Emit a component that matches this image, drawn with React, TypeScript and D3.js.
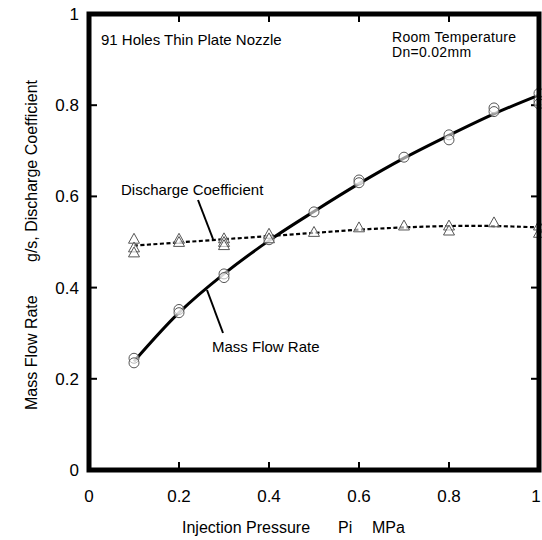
import React from "react";
import * as d3 from "d3";

const massX = [0.1, 0.1, 0.2, 0.2, 0.3, 0.3, 0.4, 0.5, 0.6, 0.6, 0.7, 0.8, 0.8, 0.9, 0.9, 1.0, 1.0, 1.0];
const massY = [0.245, 0.235, 0.352, 0.345, 0.43, 0.422, 0.505, 0.566, 0.636, 0.63, 0.686, 0.735, 0.724, 0.794, 0.786, 0.826, 0.81, 0.803];
const cdX = [0.1, 0.1, 0.1, 0.2, 0.2, 0.3, 0.3, 0.3, 0.4, 0.4, 0.5, 0.6, 0.7, 0.8, 0.8, 0.9, 1.0, 1.0];
const cdY = [0.507, 0.488, 0.477, 0.507, 0.5, 0.508, 0.5, 0.493, 0.518, 0.508, 0.522, 0.532, 0.536, 0.536, 0.525, 0.543, 0.536, 0.52];
const fitX = [0.1, 0.2, 0.3, 0.4, 0.5, 0.6, 0.7, 0.8, 0.9, 1.0];
const massFit = [0.238, 0.345, 0.43, 0.503, 0.567, 0.628, 0.684, 0.734, 0.781, 0.822];
const cdFit = [0.492, 0.499, 0.506, 0.513, 0.52, 0.527, 0.532, 0.535, 0.535, 0.532];
const xTicks = [0, 0.2, 0.4, 0.6, 0.8, 1];
const yTicks = [0, 0.2, 0.4, 0.6, 0.8, 1];

const W = 542, H = 540;
const L = 89, R = 539, T = 14, B = 470;

export default function App() {
  const x = d3.scaleLinear().domain([0, 1]).range([L, R]);
  const y = d3.scaleLinear().domain([0, 1]).range([B, T]);
  const line = d3.line<number>().x((_, i) => x(fitX[i])).y((d) => y(d)).curve(d3.curveCatmullRom);
  const font = "'Liberation Sans', Arial, sans-serif";
  const tri = (cx: number, cy: number) => {
    const s = 5.5;
    return `M${cx},${cy - s}L${cx + s},${cy + s * 0.8}L${cx - s},${cy + s * 0.8}Z`;
  };
  const fmt = (t: number) => (t === 0 || t === 1 ? String(t) : t.toFixed(1));
  return (
    <svg width={W} height={H} style={{ position: "absolute", left: 0, top: 0, background: "#fff" }} fontFamily={font}>
      <rect x={0} y={0} width={W} height={H} fill="#fff" />
      {xTicks.slice(1, -1).map((t) => (
        <g key={"xt" + t}>
          <line x1={x(t)} x2={x(t)} y1={B} y2={B - 8} stroke="#000" strokeWidth={2} />
          <line x1={x(t)} x2={x(t)} y1={T} y2={T + 8} stroke="#000" strokeWidth={2} />
        </g>
      ))}
      {yTicks.slice(1, -1).map((t) => (
        <g key={"yt" + t}>
          <line x1={L} x2={L + 8} y1={y(t)} y2={y(t)} stroke="#000" strokeWidth={2} />
          <line x1={R} x2={R - 8} y1={y(t)} y2={y(t)} stroke="#000" strokeWidth={2} />
        </g>
      ))}
      <path d={line(cdFit) || ""} fill="none" stroke="#000" strokeWidth={2.2} strokeDasharray="4,2.5" />
      <path d={line(massFit) || ""} fill="none" stroke="#000" strokeWidth={3} />
      {massX.map((v, i) => (
        <ellipse key={"m" + i} cx={x(v)} cy={y(massY[i])} rx={5} ry={5} fill="#fff" fillOpacity={0.6} stroke="#555" strokeWidth={1} />
      ))}
      {cdX.map((v, i) => (
        <path key={"c" + i} d={tri(x(v), y(cdY[i]))} fill="#fff" fillOpacity={0.6} stroke="#555" strokeWidth={1} />
      ))}
      <rect x={L} y={T} width={R - L} height={B - T} fill="none" stroke="#000" strokeWidth={5} />
      {xTicks.map((t) => (
        <text key={"xl" + t} x={Math.min(x(t), 536)} y={502} fontSize={17} textAnchor="middle">{fmt(t)}</text>
      ))}
      {yTicks.map((t) => (
        <text key={"yl" + t} x={79} y={y(t) + 6} fontSize={17} textAnchor="end">{fmt(t)}</text>
      ))}
      <text x={182} y={533} fontSize={16}>Injection Pressure</text>
      <text x={338} y={533} fontSize={16}>Pi</text>
      <text x={372} y={533} fontSize={16}>MPa</text>
      <g transform="translate(37,0)">
        <text transform="translate(0,410) rotate(-90)" fontSize={16} textAnchor="start">Mass Flow Rate</text>
        <text transform="translate(0,80) rotate(-90)" fontSize={16} textAnchor="end">g/s, Discharge Coefficient</text>
      </g>
      <text x={101} y={45} fontSize={15}>91 Holes Thin Plate Nozzle</text>
      <text x={392} y={42} fontSize={14} letterSpacing={0.3}>Room Temperature</text>
      <text x={392} y={57} fontSize={14} letterSpacing={0.3}>Dn=0.02mm</text>
      <text x={121} y={195} fontSize={15}>Discharge Coefficient</text>
      <line x1={198} y1={200} x2={213} y2={239} stroke="#000" strokeWidth={2} />
      <text x={212} y={352} fontSize={15}>Mass Flow Rate</text>
      <line x1={207} y1={290} x2={223} y2={333} stroke="#000" strokeWidth={2} />
    </svg>
  );
}
